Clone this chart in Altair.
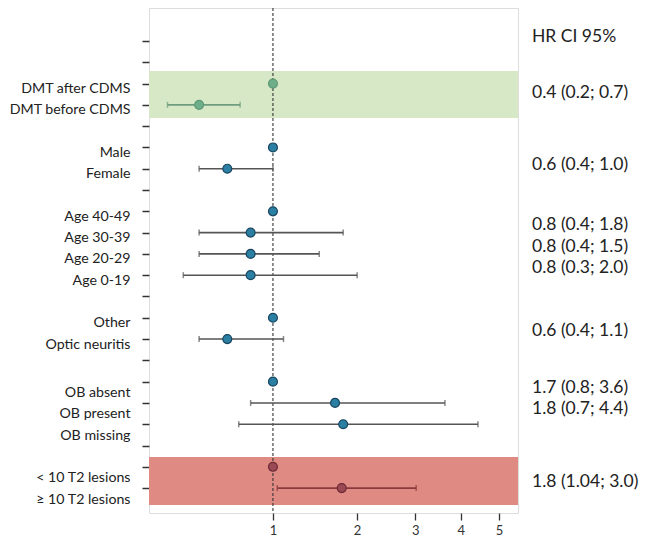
import altair as alt
import pandas as pd

# ---- data ----
row_labels = ["", "", "DMT after CDMS", "DMT before CDMS", "", "Male", "Female", "",
              "Age 40-49", "Age 30-39", "Age 20-29", "Age 0-19", "", "Other", "Optic neuritis", "",
              "OB absent", "OB present", "OB missing", "", "< 10 T2 lesions", "\u2265 10 T2 lesions"]

pt_row = [2, 3, 5, 6, 8, 9, 10, 11, 13, 14, 16, 17, 18, 20, 21]
pt_hr = [1.0, 0.47, 1.0, 0.64, 1.0, 0.81, 0.81, 0.81, 1.0, 0.64, 1.0, 1.69, 1.80, 1.0, 1.78]
pt_group = ["dmt", "dmt", "b", "b", "b", "b", "b", "b", "b", "b", "b", "b", "b", "t2", "t2"]

ci_row = [3, 6, 9, 10, 11, 14, 17, 18, 21]
ci_lo = [0.32, 0.47, 0.47, 0.47, 0.39, 0.47, 0.81, 0.72, 1.04]
ci_hi = [0.73, 1.0, 1.80, 1.49, 2.0, 1.10, 3.63, 4.43, 3.02]
ci_group = ["dmt", "b", "b", "b", "b", "b", "b", "b", "t2"]

band_start = [1.41, 19.54]
band_end = [3.62, 21.79]
band_group = ["dmt", "t2"]

hr_header = "HR CI 95%"
hr_header_row = -0.19
hr_text = ["0.4 (0.2; 0.7)", "0.6 (0.4; 1.0)", "0.8 (0.4; 1.8)", "0.8 (0.4; 1.5)",
           "0.8 (0.3; 2.0)", "0.6 (0.4; 1.1)", "1.7 (0.8; 3.6)", "1.8 (0.7; 4.4)", "1.8 (1.04; 3.0)"]
hr_row = [2.44, 5.82, 8.66, 9.66, 10.66, 13.62, 16.28, 17.3, 20.71]

x_ticks = [1, 2, 3, 4, 5]
x_domain = [0.25, 5.556]
y_domain = [-1.55, 22.17]

FONT = "Lato"
W, H = 369, 505

pts = pd.DataFrame({"row": pt_row, "hr": pt_hr, "g": pt_group})
cis = pd.DataFrame({"row": ci_row, "lo": ci_lo, "hi": ci_hi, "g": ci_group})
bands = pd.DataFrame({"s": band_start, "e": band_end, "g": band_group,
                      "x0": [x_domain[0]] * 2, "x1": [x_domain[1]] * 2})
txt = pd.DataFrame({"t": hr_text, "row": hr_row})
head = pd.DataFrame({"t": [hr_header], "row": [hr_header_row]})

xscale = alt.Scale(type="pow", exponent=0.3, domain=x_domain, nice=False, zero=False)
yscale = alt.Scale(domain=y_domain, reverse=True, nice=False, zero=False)

label_expr = "[" + ",".join("'" + s.replace("'", "\\'") + "'" for s in row_labels) + "][datum.value]"

xaxis = alt.Axis(values=x_ticks, title=None, domain=False, grid=False, tickSize=7,
                 tickColor="#333", tickWidth=1.3, labelFont=FONT, labelFontSize=13,
                 labelColor="#333", labelPadding=4, format="d")
yaxis = alt.Axis(values=list(range(len(row_labels))), labelExpr=label_expr, title=None,
                 domain=False, grid=False, tickSize=7, tickColor="#333", tickWidth=1.5,
                 labelFont=FONT, labelFontSize=14.2, labelColor="#222", labelPadding=12,
                 labelOverlap=False, labelBound=False,
                 labelOffset={"condition": {"test": "datum.value >= 16", "value": 11}, "value": 5})

band_color = alt.Scale(domain=["dmt", "t2"], range=["#d6e8c6", "#e08a84"])
line_color = alt.Scale(domain=["dmt", "b", "t2"], range=["#6f9c7e", "#555555", "#8a3a3e"])
fill_color = alt.Scale(domain=["dmt", "b", "t2"], range=["#6fae8a", "#2a7fa3", "#9b4a55"])
stroke_color = alt.Scale(domain=["dmt", "b", "t2"], range=["#5f9a78", "#1b4660", "#6e2a35"])

X = lambda f: alt.X(f, scale=xscale, axis=xaxis)
Y = lambda f: alt.Y(f, scale=yscale, axis=yaxis)

band_layer = alt.Chart(bands).mark_rect().encode(
    x=X("x0:Q"), x2="x1:Q", y=Y("s:Q"), y2="e:Q",
    color=alt.Color("g:N", scale=band_color, legend=None),
)
base_rule = alt.Chart(pd.DataFrame({"v": [1.0]})).mark_rule(
    color="#333", strokeDash=[3, 2], strokeWidth=1.1
).encode(x=X("v:Q"))

ci_layer = alt.Chart(cis).mark_rule(strokeWidth=1.6).encode(
    x=X("lo:Q"), x2="hi:Q", y=Y("row:Q"),
    color=alt.Color("g:N", scale=line_color, legend=None),
)
cap_lo = alt.Chart(cis).mark_tick(orient="vertical", size=6, thickness=1.5).encode(
    x=X("lo:Q"), y=Y("row:Q"),
    color=alt.Color("g:N", scale=line_color, legend=None),
)
cap_hi = alt.Chart(cis).mark_tick(orient="vertical", size=6, thickness=1.5).encode(
    x=X("hi:Q"), y=Y("row:Q"),
    color=alt.Color("g:N", scale=line_color, legend=None),
)
pt_layer = alt.Chart(pts).mark_point(filled=True, size=80, opacity=1, strokeWidth=1.2).encode(
    x=X("hr:Q"), y=Y("row:Q"),
    fill=alt.Fill("g:N", scale=fill_color, legend=None),
    stroke=alt.Stroke("g:N", scale=stroke_color, legend=None),
)
text_layer = alt.Chart(txt).mark_text(
    align="left", baseline="middle", font=FONT, fontSize=17.5, color="#222"
).encode(x=alt.value(W + 14), y=Y("row:Q"), text="t:N")
head_layer = alt.Chart(head).mark_text(
    align="left", baseline="middle", font=FONT, fontSize=17.5, color="#222"
).encode(x=alt.value(W + 14), y=Y("row:Q"), text="t:N")

chart = alt.layer(band_layer, base_rule, ci_layer, cap_lo, cap_hi, pt_layer, text_layer, head_layer).resolve_scale(
    color="independent"
).properties(
    width=W, height=H,
    autosize=alt.AutoSizeParams(type="none"),
    padding={"left": 141, "top": 0, "right": 124, "bottom": 26},
).configure_view(stroke="#444", strokeWidth=1.3).configure_axis(
    labelOverlap=False
).configure(background="white")

chart.save("out.html", embed_options={"renderer": "svg", "actions": False})
